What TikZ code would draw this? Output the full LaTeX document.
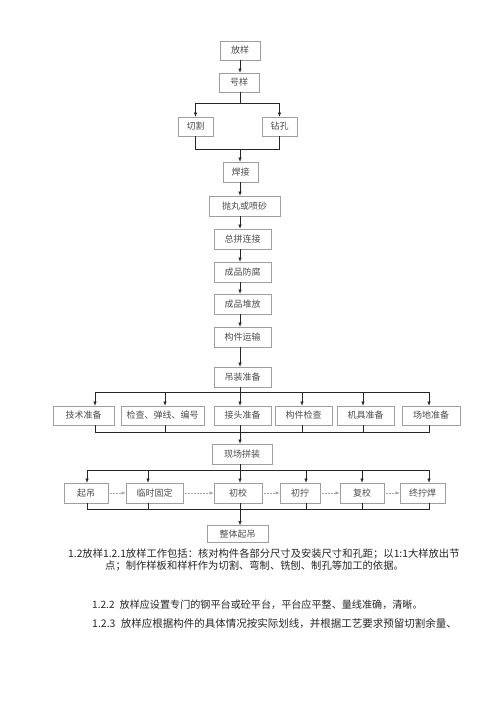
\documentclass[tikz,border=0pt]{standalone}
\usepackage{fontspec}
\setmainfont{Noto Sans CJK SC}
\newfontfamily\cjk{Noto Sans CJK SC}
\usetikzlibrary{arrows.meta,calc}
\begin{document}
\begin{tikzpicture}[x=1pt,y=-1pt,
  box/.style={draw=gray!75,line width=0.6pt,minimum height=19pt,inner sep=0pt,font=\cjk\fontsize{9}{10}\selectfont,text=gray!60!black,fill=white},
  conn/.style={draw=black!85,line width=0.5pt},
  arr/.style={conn,-{Latex[length=4pt,width=3.2pt]}},
  darr/.style={draw=gray!70,line width=0.5pt,densely dotted,-{Latex[length=4pt,width=3.2pt]}},
  body/.style={anchor=west,inner sep=0pt,font=\cjk\fontsize{10.3}{12}\selectfont,text=black!85},
  bodys/.style={body,font=\cjk\fontsize{10.1}{12}\selectfont},
  bodyl/.style={body,font=\cjk\fontsize{10.5}{12}\selectfont}]
\useasboundingbox (0,0) rectangle (500,707);
\fill[white] (0,0) rectangle (500,707);
\coordinate (col) at (240,0);
% main column
\node[box,minimum width=40pt] (fy) at (240,50.5) {放样};
\node[box,minimum width=40pt] (hy) at (239,82.5) {号样};
\node[box,minimum width=35pt] (qg) at (195.5,126.5) {切割};
\node[box,minimum width=35pt] (zk) at (279.5,126.5) {钻孔};
\node[box,minimum width=35pt,minimum height=20pt] (hj) at (240.5,172) {焊接};
\node[box,minimum width=71pt,minimum height=20pt] (pw) at (244.5,206) {抛丸或喷砂};
\node[box,minimum width=57pt,minimum height=20pt] (zp) at (242.5,239) {总拼连接};
\node[box,minimum width=57pt,minimum height=20pt] (ff) at (242.5,272) {成品防腐};
\node[box,minimum width=57pt,minimum height=20pt] (df) at (242.5,304) {成品堆放};
\node[box,minimum width=57pt,minimum height=20pt] (ys) at (242.5,337) {构件运输};
\node[box,minimum width=57pt,minimum height=20pt] (dz) at (242.5,377) {吊装准备};
% row 1
\node[box,minimum width=61pt] (js) at (83.5,415.5) {技术准备};
\node[box,minimum width=83pt] (jc) at (162.5,415.5) {检查、弹线、编号};
\node[box,minimum width=57pt] (jt) at (242.5,415.5) {接头准备};
\node[box,minimum width=57pt] (gj) at (303.5,415.5) {构件检查};
\node[box,minimum width=57pt] (jj) at (365.5,415.5) {机具准备};
\node[box,minimum width=58pt] (cd) at (431,415.5) {场地准备};
\node[box,minimum width=60pt,minimum height=20pt] (xc) at (242,454) {现场拼装};
% row 2
\node[box,minimum width=44pt,minimum height=20pt] (qd) at (86,493) {起吊};
\node[box,minimum width=57pt,minimum height=20pt] (ls) at (154.5,493) {临时固定};
\node[box,minimum width=48pt,minimum height=20pt] (cx) at (238,493) {初校};
\node[box,minimum width=40pt,minimum height=20pt] (cn) at (300,493) {初拧};
\node[box,minimum width=44pt,minimum height=20pt] (fx) at (362,493) {复校};
\node[box,minimum width=45pt,minimum height=20pt] (zn) at (422.5,493) {终拧焊};
\node[box,minimum width=61pt,minimum height=17pt] (zt) at (237.5,534) {整体起吊};
% branch coordinates
\coordinate (s1) at (0,103);
\coordinate (j1) at (0,149);
\coordinate (s2) at (0,392);
\coordinate (j2) at (0,432);
\coordinate (s3) at (0,470);
\coordinate (j3) at (0,509);
% connectors top
\draw[arr] (fy.south -| col) -- (hy.north -| col);
\draw[conn] (hy.south -| col) -- (s1 -| col);
\draw[conn] (s1 -| qg) -- (s1 -| zk);
\draw[arr] (s1 -| qg) -- (qg.north);
\draw[arr] (s1 -| zk) -- (zk.north);
\draw[conn] (qg.south) -- (j1 -| qg) -- (j1 -| zk) -- (zk.south);
\draw[arr] (j1 -| col) -- (hj.north -| col);
\draw[arr] (hj.south -| col) -- (pw.north -| col);
\draw[arr] (pw.south -| col) -- (zp.north -| col);
\draw[arr] (zp.south -| col) -- (ff.north -| col);
\draw[arr] (ff.south -| col) -- (df.north -| col);
\draw[arr] (df.south -| col) -- (ys.north -| col);
\draw[arr] (ys.south -| col) -- (dz.north -| col);
% row 1 branches
\coordinate (a1) at (95,0);
\coordinate (a2) at (165,0);
\coordinate (a3) at (240,0);
\coordinate (a4) at (302,0);
\coordinate (a5) at (363,0);
\coordinate (a6) at (429,0);
\draw[conn] (dz.south -| col) -- (s2 -| col);
\draw[conn] (s2 -| a1) -- (s2 -| a6);
\draw[arr] (s2 -| a1) -- (js.north -| a1);
\draw[arr] (s2 -| a2) -- (jc.north -| a2);
\draw[arr] (s2 -| a3) -- (jt.north -| a3);
\draw[arr] (s2 -| a4) -- (gj.north -| a4);
\draw[arr] (s2 -| a5) -- (jj.north -| a5);
\draw[arr] (s2 -| a6) -- (cd.north -| a6);
\draw[conn] (js.south -| a1) -- (j2 -| a1) -- (j2 -| a6) -- (cd.south -| a6);
\draw[conn] (jc.south -| a2) -- (j2 -| a2);
\draw[conn] (jt.south -| a3) -- (j2 -| a3);
\draw[conn] (gj.south -| a4) -- (j2 -| a4);
\draw[conn] (jj.south -| a5) -- (j2 -| a5);
\draw[arr] (j2 -| col) -- (xc.north -| col);
% row 2 branches
\coordinate (b1) at (87,0);
\coordinate (b2) at (148,0);
\coordinate (b3) at (240,0);
\coordinate (b4) at (306,0);
\coordinate (b5) at (362,0);
\coordinate (b6) at (429,0);
\draw[conn] (xc.south -| col) -- (s3 -| col);
\draw[conn] (s3 -| b1) -- (s3 -| b6);
\draw[arr] (s3 -| b1) -- (qd.north -| b1);
\draw[arr] (s3 -| b2) -- (ls.north -| b2);
\draw[arr] (s3 -| b3) -- (cx.north -| b3);
\draw[arr] (s3 -| b4) -- (cn.north -| b4);
\draw[arr] (s3 -| b5) -- (fx.north -| b5);
\draw[arr] (s3 -| b6) -- (zn.north -| b6);
\draw[conn] (qd.south -| b1) -- (j3 -| b1) -- (j3 -| b6) -- (zn.south -| b6);
\draw[conn] (ls.south -| b2) -- (j3 -| b2);
\draw[conn] (cx.south -| b3) -- (j3 -| b3);
\draw[conn] (cn.south -| b4) -- (j3 -| b4);
\draw[conn] (fx.south -| b5) -- (j3 -| b5);
\draw[arr] (j3 -| col) -- (zt.north -| col);
% horizontal sequence arrows
\draw[darr] (qd.east) -- (ls.west);
\draw[darr] (ls.east) -- (cx.west);
\draw[darr] (cx.east) -- (cn.west);
\draw[darr] (cn.east) -- (fx.west);
\draw[darr] (fx.east) -- (zn.west);
% body text
\node[body] (t1) at (68,554) {1.2放样1.2.1放样工作包括：核对构件各部分尺寸及安装尺寸和孔距；以1:1大样放出节};
\node[body] (t2) at (105,566) {点；制作样板和样杆作为切割、弯制、铣刨、制孔等加工的依据。};
\node[bodys] (t3) at (92,605) {1.2.2\hspace{0.5em}放样应设置专门的钢平台或砼平台，平台应平整、量线准确，清晰。};
\node[bodyl] (t4) at (92,624) {1.2.3\hspace{0.5em}放样应根据构件的具体情况按实际划线，并根据工艺要求预留切割余量、};
\end{tikzpicture}
\end{document}
